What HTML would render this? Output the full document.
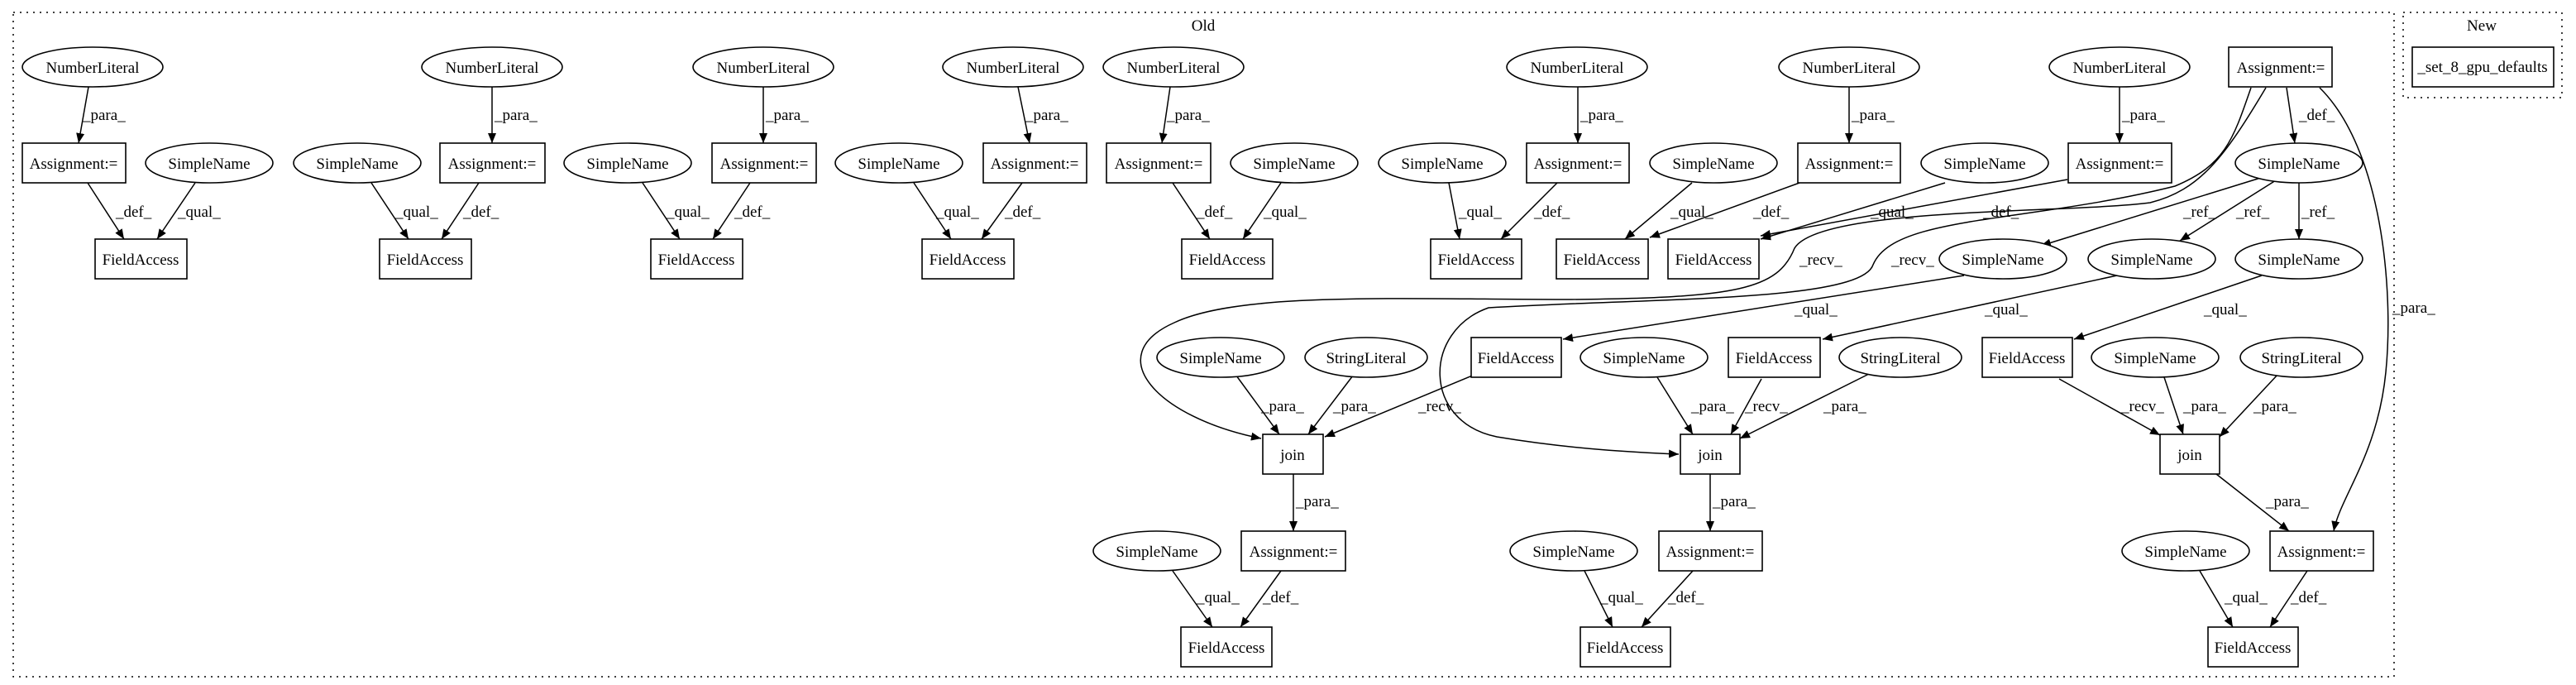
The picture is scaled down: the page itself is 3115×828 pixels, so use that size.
<!DOCTYPE html>
<html><head><meta charset="utf-8"><style>
html,body{margin:0;padding:0;background:#fff;}
svg{display:block;}
text{font-family:"Liberation Serif",serif;font-size:19px;fill:#000;}
</style></head><body>
<svg width="3115" height="828" viewBox="0 0 3115 828" xmlns="http://www.w3.org/2000/svg">
<defs><marker id="a" markerWidth="12" markerHeight="10" refX="12" refY="5" orient="auto" markerUnits="userSpaceOnUse"><path d="M0,0 L12,5 L0,10 z" fill="#000"/></marker></defs>
<rect x="16" y="15" width="2879" height="803" fill="none" stroke="#000" stroke-width="1.5" stroke-dasharray="2,6"/>
<rect x="2906" y="15" width="192" height="103" fill="none" stroke="#000" stroke-width="1.5" stroke-dasharray="2,6"/>
<text x="1455" y="37" text-anchor="middle">Old</text>
<text x="3001" y="37" text-anchor="middle">New</text>
<g fill="none" stroke="#000" stroke-width="1.6">
<rect x="2917" y="57" width="171" height="48"/>
</g>
<text x="3002" y="87" text-anchor="middle">_set_8_gpu_defaults</text>

<g stroke="#000" stroke-width="1.5" fill="none" marker-end="url(#a)">
<line x1="107" y1="105" x2="95" y2="173"/><line x1="106" y1="221" x2="150" y2="289"/><line x1="236" y1="221" x2="190" y2="289"/>
<line x1="595" y1="105" x2="595" y2="173"/><line x1="449" y1="221" x2="494" y2="289"/><line x1="579" y1="221" x2="534" y2="289"/>
<line x1="923" y1="105" x2="923" y2="173"/><line x1="777" y1="221" x2="822" y2="289"/><line x1="907" y1="221" x2="862" y2="289"/>
<line x1="1231" y1="105" x2="1245" y2="173"/><line x1="1105" y1="221" x2="1150" y2="289"/><line x1="1236" y1="221" x2="1187" y2="289"/>
<line x1="1415" y1="105" x2="1405" y2="173"/><line x1="1418" y1="221" x2="1463" y2="289"/><line x1="1549" y1="221" x2="1503" y2="289"/>
<line x1="1908" y1="105" x2="1908" y2="173"/><line x1="1752" y1="221" x2="1765" y2="289"/><line x1="1883" y1="221" x2="1815" y2="289"/>
<line x1="2236" y1="105" x2="2236" y2="173"/><line x1="2046" y1="221" x2="1965" y2="289"/><line x1="2176" y1="221" x2="1995" y2="287"/>
<line x1="2563" y1="105" x2="2563" y2="173"/><line x1="2352" y1="221" x2="2129" y2="289"/><line x1="2500" y1="217" x2="2129" y2="285"/>
<line x1="2765" y1="106" x2="2775" y2="173"/>
<line x1="2740" y1="213" x2="2468" y2="297"/><line x1="2752" y1="218" x2="2636" y2="291"/><line x1="2780" y1="221" x2="2780" y2="289"/>
<line x1="2375" y1="333" x2="1890" y2="410"/><line x1="2560" y1="333" x2="2204" y2="410"/><line x1="2735" y1="333" x2="2508" y2="410"/>
<line x1="1495" y1="454" x2="1547" y2="525"/><line x1="1636" y1="454" x2="1582" y2="525"/><line x1="1790" y1="450" x2="1602" y2="528"/>
<line x1="2004" y1="456" x2="2047" y2="525"/><line x1="2130" y1="458" x2="2093" y2="525"/><line x1="2260" y1="452" x2="2104" y2="530"/>
<line x1="2490" y1="458" x2="2612" y2="526"/><line x1="2617" y1="456" x2="2640" y2="525"/><line x1="2755" y1="452" x2="2684" y2="528"/>
<line x1="1564" y1="573" x2="1564" y2="642"/><line x1="2068" y1="573" x2="2068" y2="642"/><line x1="2680" y1="573" x2="2768" y2="642"/>
<line x1="1418" y1="690" x2="1466" y2="758"/><line x1="1549" y1="690" x2="1500" y2="758"/>
<line x1="1916" y1="690" x2="1950" y2="758"/><line x1="2047" y1="690" x2="1985" y2="758"/>
<line x1="2660" y1="690" x2="2700" y2="758"/><line x1="2790" y1="690" x2="2745" y2="758"/>
<path d="M2740,106 C2690,190 2660,230 2600,245 C2500,258 2200,250 2170,300 C2150,350 2100,360 1900,362 C1700,362 1500,352 1420,390 C1330,430 1400,505 1525,530"/>
<path d="M2722,106 C2700,170 2690,200 2630,225 C2450,270 2290,260 2265,320 C2250,365 2000,360 1800,372 C1720,400 1720,510 1810,528 C1900,543 1980,547 2030,549"/>
<path d="M2805,106 C2880,180 2895,350 2885,450 C2875,550 2830,600 2822,642"/>
</g>

<g fill="#fff" stroke="#000" stroke-width="1.6">
<ellipse cx="112" cy="81" rx="85" ry="24"/><ellipse cx="595" cy="81" rx="85" ry="24"/><ellipse cx="923" cy="81" rx="85" ry="24"/>
<ellipse cx="1225" cy="81" rx="85" ry="24"/><ellipse cx="1419" cy="81" rx="85" ry="24"/><ellipse cx="1907" cy="81" rx="85" ry="24"/>
<ellipse cx="2236" cy="81" rx="85" ry="24"/><ellipse cx="2563" cy="81" rx="85" ry="24"/>
<rect x="27" y="173" width="125" height="48"/><rect x="532" y="173" width="127" height="48"/><rect x="861" y="173" width="126" height="48"/>
<rect x="1189" y="173" width="125" height="48"/><rect x="1338" y="173" width="126" height="48"/><rect x="1846" y="173" width="124" height="48"/>
<rect x="2174" y="173" width="124" height="48"/><rect x="2501" y="173" width="125" height="48"/><rect x="2695" y="57" width="125" height="48"/>
<ellipse cx="253" cy="197" rx="77" ry="24"/><ellipse cx="432" cy="197" rx="77" ry="24"/><ellipse cx="759" cy="197" rx="77" ry="24"/>
<ellipse cx="1087" cy="197" rx="77" ry="24"/><ellipse cx="1565" cy="197" rx="77" ry="24"/><ellipse cx="1744" cy="197" rx="77" ry="24"/>
<ellipse cx="2072" cy="197" rx="77" ry="24"/><ellipse cx="2400" cy="197" rx="77" ry="24"/><ellipse cx="2780" cy="197" rx="77" ry="24"/>
<rect x="115" y="289" width="111" height="48"/><rect x="459" y="289" width="111" height="48"/><rect x="787" y="289" width="111" height="48"/>
<rect x="1115" y="289" width="111" height="48"/><rect x="1429" y="289" width="110" height="48"/><rect x="1730" y="289" width="110" height="48"/>
<rect x="1882" y="289" width="111" height="48"/><rect x="2017" y="289" width="110" height="48"/>
<ellipse cx="2422" cy="313" rx="77" ry="24"/><ellipse cx="2602" cy="313" rx="77" ry="24"/><ellipse cx="2780" cy="313" rx="77" ry="24"/>
<ellipse cx="1476" cy="432" rx="77" ry="24"/><ellipse cx="1652" cy="432" rx="74" ry="24"/><rect x="1779" y="408" width="109" height="48"/>
<ellipse cx="1988" cy="432" rx="77" ry="24"/><rect x="2090" y="408" width="111" height="48"/><ellipse cx="2298" cy="432" rx="74" ry="24"/>
<rect x="2397" y="408" width="109" height="48"/><ellipse cx="2606" cy="432" rx="77" ry="24"/><ellipse cx="2783" cy="432" rx="74" ry="24"/>
<rect x="1527" y="525" width="73" height="48"/><rect x="2032" y="525" width="72" height="48"/><rect x="2612" y="525" width="72" height="48"/>
<ellipse cx="1399" cy="666" rx="77" ry="24"/><rect x="1501" y="642" width="126" height="48"/>
<ellipse cx="1903" cy="666" rx="77" ry="24"/><rect x="2006" y="642" width="125" height="48"/>
<ellipse cx="2643" cy="666" rx="77" ry="24"/><rect x="2745" y="642" width="125" height="48"/>
<rect x="1428" y="758" width="110" height="48"/><rect x="1911" y="758" width="109" height="48"/><rect x="2670" y="758" width="109" height="48"/>
</g>

<g text-anchor="middle">
<text x="112" y="88">NumberLiteral</text><text x="595" y="88">NumberLiteral</text><text x="923" y="88">NumberLiteral</text>
<text x="1225" y="88">NumberLiteral</text><text x="1419" y="88">NumberLiteral</text><text x="1907" y="88">NumberLiteral</text>
<text x="2236" y="88">NumberLiteral</text><text x="2563" y="88">NumberLiteral</text><text x="2758" y="88">Assignment:=</text>
<text x="89" y="204">Assignment:=</text><text x="595" y="204">Assignment:=</text><text x="924" y="204">Assignment:=</text>
<text x="1251" y="204">Assignment:=</text><text x="1401" y="204">Assignment:=</text><text x="1908" y="204">Assignment:=</text>
<text x="2236" y="204">Assignment:=</text><text x="2563" y="204">Assignment:=</text>
<text x="253" y="204">SimpleName</text><text x="432" y="204">SimpleName</text><text x="759" y="204">SimpleName</text>
<text x="1087" y="204">SimpleName</text><text x="1565" y="204">SimpleName</text><text x="1744" y="204">SimpleName</text>
<text x="2072" y="204">SimpleName</text><text x="2400" y="204">SimpleName</text><text x="2780" y="204">SimpleName</text>
<text x="170" y="320">FieldAccess</text><text x="514" y="320">FieldAccess</text><text x="842" y="320">FieldAccess</text>
<text x="1170" y="320">FieldAccess</text><text x="1484" y="320">FieldAccess</text><text x="1785" y="320">FieldAccess</text>
<text x="1937" y="320">FieldAccess</text><text x="2072" y="320">FieldAccess</text>
<text x="2422" y="320">SimpleName</text><text x="2602" y="320">SimpleName</text><text x="2780" y="320">SimpleName</text>
<text x="1476" y="439">SimpleName</text><text x="1652" y="439">StringLiteral</text><text x="1833" y="439">FieldAccess</text>
<text x="1988" y="439">SimpleName</text><text x="2145" y="439">FieldAccess</text><text x="2298" y="439">StringLiteral</text>
<text x="2451" y="439">FieldAccess</text><text x="2606" y="439">SimpleName</text><text x="2783" y="439">StringLiteral</text>
<text x="1563" y="556">join</text><text x="2068" y="556">join</text><text x="2648" y="556">join</text>
<text x="1399" y="673">SimpleName</text><text x="1564" y="673">Assignment:=</text>
<text x="1903" y="673">SimpleName</text><text x="2068" y="673">Assignment:=</text>
<text x="2643" y="673">SimpleName</text><text x="2807" y="673">Assignment:=</text>
<text x="1483" y="789">FieldAccess</text><text x="1965" y="789">FieldAccess</text><text x="2724" y="789">FieldAccess</text>
</g>

<g>
<text x="100" y="145">_para_</text><text x="140" y="262">_def_</text><text x="215" y="262">_qual_</text>
<text x="598" y="145">_para_</text><text x="478" y="262">_qual_</text><text x="560" y="262">_def_</text>
<text x="926" y="145">_para_</text><text x="806" y="262">_qual_</text><text x="888" y="262">_def_</text>
<text x="1240" y="145">_para_</text><text x="1132" y="262">_qual_</text><text x="1215" y="262">_def_</text>
<text x="1411" y="145">_para_</text><text x="1447" y="262">_def_</text><text x="1528" y="262">_qual_</text>
<text x="1911" y="145">_para_</text><text x="1764" y="262">_qual_</text><text x="1855" y="262">_def_</text>
<text x="2239" y="145">_para_</text><text x="2020" y="262">_qual_</text><text x="2120" y="262">_def_</text>
<text x="2566" y="145">_para_</text><text x="2262" y="262">_qual_</text><text x="2398" y="262">_def_</text>
<text x="2780" y="145">_def_</text>
<text x="2640" y="262">_ref_</text><text x="2704" y="262">_ref_</text><text x="2783" y="262">_ref_</text>
<text x="2176" y="320">_recv_</text><text x="2287" y="320">_recv_</text>
<text x="2170" y="380">_qual_</text><text x="2400" y="380">_qual_</text><text x="2665" y="380">_qual_</text>
<text x="2893" y="378">_para_</text>
<text x="1525" y="497">_para_</text><text x="1612" y="497">_para_</text><text x="1715" y="497">_recv_</text>
<text x="2045" y="497">_para_</text><text x="2110" y="497">_recv_</text><text x="2205" y="497">_para_</text>
<text x="2565" y="497">_recv_</text><text x="2640" y="497">_para_</text><text x="2725" y="497">_para_</text>
<text x="1567" y="612">_para_</text><text x="2071" y="612">_para_</text><text x="2740" y="612">_para_</text>
<text x="1447" y="728">_qual_</text><text x="1527" y="728">_def_</text>
<text x="1935" y="728">_qual_</text><text x="2017" y="728">_def_</text>
<text x="2690" y="728">_qual_</text><text x="2770" y="728">_def_</text>
</g>
</svg>
</body></html>
